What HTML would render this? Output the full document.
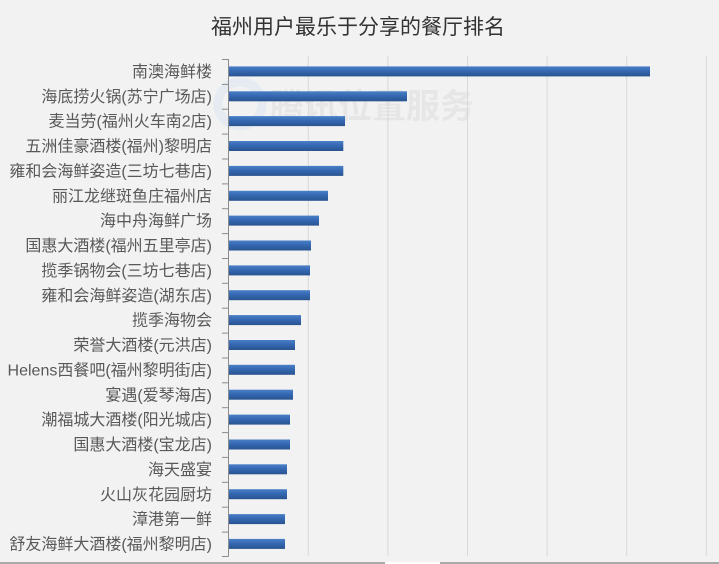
<!DOCTYPE html>
<html>
<head>
<meta charset="utf-8">
<style>
  html,body{margin:0;padding:0;background:#f2f2f2;}
  svg{display:block;}
  text{font-family:"Liberation Sans","Noto Sans CJK SC","Microsoft YaHei",sans-serif;}
</style>
</head>
<body>
<svg width="719" height="564" viewBox="0 0 719 564" xmlns="http://www.w3.org/2000/svg">
  <defs>
    <linearGradient id="bg" x1="0" y1="0" x2="0" y2="1">
      <stop offset="0" stop-color="#4a80c8"/>
      <stop offset="0.45" stop-color="#3568b2"/>
      <stop offset="1" stop-color="#28538f"/>
    </linearGradient>
  </defs>
  <rect x="0" y="0" width="719" height="564" fill="#f2f2f2"/>

  <!-- watermark -->
  <g opacity="0.55">
    <circle cx="240" cy="104" r="22" fill="none" stroke="#dce6f0" stroke-width="9"/>
    <text x="270" y="118" font-size="34" fill="#dedede" font-weight="bold">腾讯位置服务</text>
  </g>

  <!-- title -->
  <text x="358" y="34" font-size="21" fill="#333333" text-anchor="middle">福州用户最乐于分享的餐厅排名</text>

  <!-- gridlines -->
  <g stroke="#d9d9d9" stroke-width="1">
    <line x1="308.3" y1="56" x2="308.3" y2="556"/>
    <line x1="387.9" y1="56" x2="387.9" y2="556"/>
    <line x1="467.5" y1="56" x2="467.5" y2="556"/>
    <line x1="547.1" y1="56" x2="547.1" y2="556"/>
    <line x1="626.7" y1="56" x2="626.7" y2="556"/>
    <line x1="706.3" y1="56" x2="706.3" y2="556"/>
  </g>

  <!-- bars -->
  <g fill="url(#bg)">
    <rect x="229" y="66.4" width="421" height="10"/>
    <rect x="229" y="91.3" width="178" height="10"/>
    <rect x="229" y="116.1" width="116" height="10"/>
    <rect x="229" y="141.0" width="114.3" height="10"/>
    <rect x="229" y="165.9" width="114.3" height="10"/>
    <rect x="229" y="190.8" width="99" height="10"/>
    <rect x="229" y="215.6" width="90" height="10"/>
    <rect x="229" y="240.5" width="82" height="10"/>
    <rect x="229" y="265.4" width="81" height="10"/>
    <rect x="229" y="290.2" width="81" height="10"/>
    <rect x="229" y="315.1" width="72" height="10"/>
    <rect x="229" y="340.0" width="66" height="10"/>
    <rect x="229" y="364.8" width="66" height="10"/>
    <rect x="229" y="389.7" width="64" height="10"/>
    <rect x="229" y="414.6" width="61" height="10"/>
    <rect x="229" y="439.5" width="61" height="10"/>
    <rect x="229" y="464.3" width="58" height="10"/>
    <rect x="229" y="489.2" width="58" height="10"/>
    <rect x="229" y="514.1" width="56" height="10"/>
    <rect x="229" y="538.9" width="56" height="10"/>
  </g>

  <!-- axis & ticks -->
  <g stroke="#8c8c8c" stroke-width="1">
    <line x1="228.5" y1="59" x2="228.5" y2="556.5"/>
    <line x1="222" y1="59.5" x2="228.5" y2="59.5"/>
    <line x1="222" y1="84.4" x2="228.5" y2="84.4"/>
    <line x1="222" y1="109.2" x2="228.5" y2="109.2"/>
    <line x1="222" y1="134.1" x2="228.5" y2="134.1"/>
    <line x1="222" y1="159.0" x2="228.5" y2="159.0"/>
    <line x1="222" y1="183.9" x2="228.5" y2="183.9"/>
    <line x1="222" y1="208.7" x2="228.5" y2="208.7"/>
    <line x1="222" y1="233.6" x2="228.5" y2="233.6"/>
    <line x1="222" y1="258.5" x2="228.5" y2="258.5"/>
    <line x1="222" y1="283.3" x2="228.5" y2="283.3"/>
    <line x1="222" y1="308.2" x2="228.5" y2="308.2"/>
    <line x1="222" y1="333.1" x2="228.5" y2="333.1"/>
    <line x1="222" y1="358.0" x2="228.5" y2="358.0"/>
    <line x1="222" y1="382.8" x2="228.5" y2="382.8"/>
    <line x1="222" y1="407.7" x2="228.5" y2="407.7"/>
    <line x1="222" y1="432.6" x2="228.5" y2="432.6"/>
    <line x1="222" y1="457.4" x2="228.5" y2="457.4"/>
    <line x1="222" y1="482.3" x2="228.5" y2="482.3"/>
    <line x1="222" y1="507.2" x2="228.5" y2="507.2"/>
    <line x1="222" y1="532.1" x2="228.5" y2="532.1"/>
    <line x1="222" y1="556.5" x2="228.5" y2="556.5"/>
  </g>

  <!-- labels -->
  <g font-size="16" fill="#595959" text-anchor="end">
    <text x="212" y="77">南澳海鲜楼</text>
    <text x="212" y="101.9">海底捞火锅(苏宁广场店)</text>
    <text x="212" y="126.7">麦当劳(福州火车南2店)</text>
    <text x="212" y="151.6">五洲佳豪酒楼(福州)黎明店</text>
    <text x="212" y="176.5">雍和会海鲜姿造(三坊七巷店)</text>
    <text x="212" y="201.4">丽江龙继斑鱼庄福州店</text>
    <text x="212" y="226.2">海中舟海鲜广场</text>
    <text x="212" y="251.1">国惠大酒楼(福州五里亭店)</text>
    <text x="212" y="276.0">揽季锅物会(三坊七巷店)</text>
    <text x="212" y="300.8">雍和会海鲜姿造(湖东店)</text>
    <text x="212" y="325.7">揽季海物会</text>
    <text x="212" y="350.6">荣誉大酒楼(元洪店)</text>
    <text x="212" y="375.4">Helens西餐吧(福州黎明街店)</text>
    <text x="212" y="400.3">宴遇(爱琴海店)</text>
    <text x="212" y="425.2">潮福城大酒楼(阳光城店)</text>
    <text x="212" y="450.1">国惠大酒楼(宝龙店)</text>
    <text x="212" y="474.9">海天盛宴</text>
    <text x="212" y="499.8">火山灰花园厨坊</text>
    <text x="212" y="524.7">漳港第一鲜</text>
    <text x="212" y="549.5">舒友海鲜大酒楼(福州黎明店)</text>
  </g>

  <!-- bottom border -->
  <rect x="0" y="562" width="385" height="2" fill="#a9a9a9"/>
  <rect x="385" y="562" width="55" height="2" fill="#ffffff"/>
  <rect x="440" y="562" width="279" height="2" fill="#a9a9a9"/>
</svg>
</body>
</html>
